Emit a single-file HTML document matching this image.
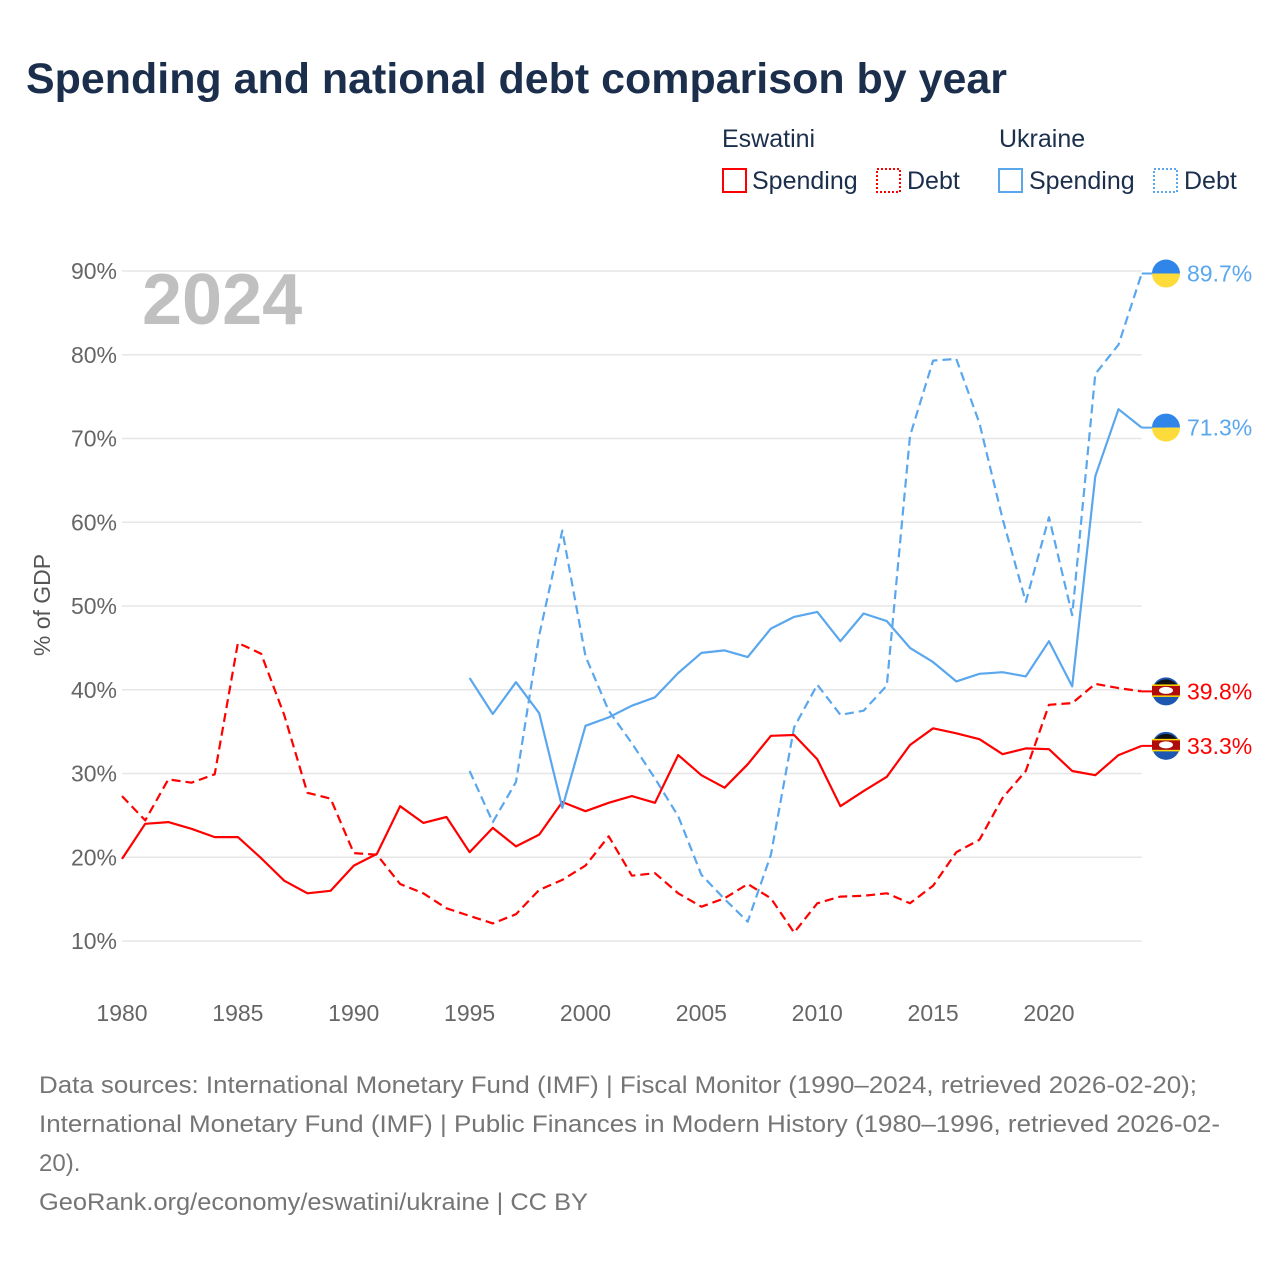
<!DOCTYPE html>
<html><head><meta charset="utf-8"><style>
body{margin:0;background:#fff;font-family:"Liberation Sans",sans-serif}
svg text{font-family:"Liberation Sans",sans-serif}
</style></head><body>
<svg id="chart" width="1280" height="1280" viewBox="0 0 1280 1280">
<text x="26" y="93" font-size="43" font-weight="bold" fill="#1b2f4d" textLength="981" lengthAdjust="spacingAndGlyphs">Spending and national debt comparison by year</text>
<g font-size="25" fill="#1b2f4d">
<text x="722" y="147" fill="#1b2f4d">Eswatini</text>
<text x="999" y="147" fill="#1b2f4d">Ukraine</text>
<g><rect x="723" y="169" width="23" height="23" fill="none" stroke="#f00" stroke-width="2"/><text x="752" y="189">Spending</text></g>
<g><rect x="877" y="169" width="23" height="23" fill="none" stroke="#f00" stroke-width="2" stroke-dasharray="2,2"/><text x="907" y="189">Debt</text></g>
<g><rect x="999" y="169" width="23" height="23" fill="none" stroke="#5aa7ee" stroke-width="2"/><text x="1029" y="189">Spending</text></g>
<g><rect x="1154" y="169" width="23" height="23" fill="none" stroke="#5aa7ee" stroke-width="2" stroke-dasharray="2,2"/><text x="1184" y="189">Debt</text></g>
</g>
<g id="grid"></g>
<g id="yticks"></g>
<g id="xticks"></g>
<text x="0" y="0" transform="translate(50,605) rotate(-90)" text-anchor="middle" font-size="23" fill="#555">% of GDP</text>
<text x="142" y="324" font-size="72" font-weight="bold" fill="#c0c0c0">2024</text>
<g id="series"></g>
<g id="ends"></g>
<g font-size="24" fill="#757575">
<text x="39" y="1093" textLength="1158" lengthAdjust="spacingAndGlyphs">Data sources: International Monetary Fund (IMF) | Fiscal Monitor (1990–2024, retrieved 2026-02-20);</text>
<text x="39" y="1132" textLength="1181" lengthAdjust="spacingAndGlyphs">International Monetary Fund (IMF) | Public Finances in Modern History (1980–1996, retrieved 2026-02-</text>
<text x="39" y="1171">20).</text>
<text x="39" y="1210" textLength="549" lengthAdjust="spacingAndGlyphs">GeoRank.org/economy/eswatini/ukraine | CC BY</text>
</g>
</svg>
<script>
const years=[];for(let y=1980;y<=2024;y++)years.push(y);
const yTicks=[10,20,30,40,50,60,70,80,90];
const xTicks=[1980,1985,1990,1995,2000,2005,2010,2015,2020];
const eswSpending=[19.8,24.0,24.2,23.4,22.4,22.4,19.9,17.2,15.7,16.0,19.0,20.4,26.1,24.1,24.8,20.6,23.5,21.3,22.7,26.6,25.5,26.5,27.3,26.5,32.2,29.8,28.3,31.1,34.5,34.6,31.7,26.1,27.9,29.6,33.4,35.4,34.8,34.1,32.3,33.0,32.9,30.3,29.8,32.2,33.3];
const eswDebt=[27.3,24.4,29.3,28.9,29.9,45.6,44.3,37.0,27.7,27.0,20.5,20.3,16.8,15.7,13.9,13.0,12.1,13.2,16.1,17.3,19.0,22.5,17.8,18.1,15.7,14.1,15.1,16.8,15.1,11.0,14.5,15.3,15.4,15.7,14.5,16.6,20.6,22.1,27.1,30.3,38.2,38.4,40.7,40.2,39.8];
const ukrYears=[];for(let y=1995;y<=2024;y++)ukrYears.push(y);
const ukrSpending=[41.4,37.1,40.9,37.2,25.9,35.7,36.7,38.1,39.1,42.0,44.4,44.7,43.9,47.3,48.7,49.3,45.8,49.1,48.2,45.0,43.3,41.0,41.9,42.1,41.6,45.8,40.4,65.5,73.5,71.3];
const ukrDebt=[30.3,24.2,29.0,46.5,59.0,44.0,37.5,33.6,29.4,24.9,17.9,15.0,12.3,20.3,35.5,40.6,37.0,37.5,40.5,70.3,79.3,79.5,71.8,60.4,50.5,60.6,48.9,77.7,81.2,89.7];

const NS="http://www.w3.org/2000/svg";
const X0=122,X1=1141.7,Y0=941,Y1=271;
const xs=y=>X0+(y-1980)*(X1-X0)/44;
const ys=v=>Y0-(v-10)*(Y0-Y1)/80;
function mk(tag,attrs,parent){const e=document.createElementNS(NS,tag);for(const k in attrs)e.setAttribute(k,attrs[k]);parent.appendChild(e);return e;}
const grid=document.getElementById('grid'),yt=document.getElementById('yticks'),xt=document.getElementById('xticks');
yTicks.forEach(v=>{
 const l=mk('line',{x1:X0,x2:X1,y1:ys(v),y2:ys(v),stroke:'#e6e6e6','stroke-width':1.5},grid);
 
 
 const t=mk('text',{x:117,y:ys(v)+8,'text-anchor':'end','font-size':23,fill:'#666'},yt);t.textContent=v+'%';
 
 
});
xTicks.forEach(v=>{
 const t=mk('text',{x:xs(v),y:1021,'text-anchor':'middle','font-size':23,fill:'#666'},xt);t.textContent=v;
 
 
});
const ser=document.getElementById('series');
function line(xv,yv,color,dash,name){
 const d=yv.map((v,i)=>(i?'L':'M')+xs(xv[i]).toFixed(1)+','+ys(v).toFixed(1)).join('');
 const p=mk('path',{d:d,fill:'none',stroke:color,'stroke-width':2.2,'stroke-linejoin':'round'},ser);
 if(dash)p.setAttribute('stroke-dasharray','9,5');
 
 
}
line(years,eswDebt,'#f00',true,'line-eswatini-debt');
line(ukrYears,ukrDebt,'#5aa7ee',true,'line-ukraine-debt');
line(years,eswSpending,'#f00',false,'line-eswatini-spending');
line(ukrYears,ukrSpending,'#5aa7ee',false,'line-ukraine-spending');
const ends=document.getElementById('ends');
function endLabel(v,color,flag,name){
 const y=ys(v),cx=1166;
 const g=mk('g',{},ends);
 
 
 mk('line',{x1:X1,x2:cx,y1:y,y2:y,stroke:color,'stroke-width':2},g);
 if(flag==='ua'){
  mk('path',{d:`M${cx-14},${y}A14,14 0 0 1 ${cx+14},${y}Z`,fill:'#2f86e8'},g);
  mk('path',{d:`M${cx-14},${y}A14,14 0 0 0 ${cx+14},${y}Z`,fill:'#fddb3a'},g);
 }else{
  mk('circle',{cx:cx,cy:y,r:14,fill:'#1d57b0'},g);
  mk('path',{d:`M${cx-14},${y+2}A14,14 0 0 1 ${cx+14},${y+2}Z`,fill:'#111'},g);
  mk('rect',{x:cx-14,y:y-6,width:28,height:10,fill:'#b10c0c'},g);
  mk('rect',{x:cx-14,y:y-7,width:28,height:1.5,fill:'#ffd900'},g);
  mk('rect',{x:cx-14,y:y+4,width:28,height:1.5,fill:'#ffd900'},g);
  mk('ellipse',{cx:cx,cy:y-1,rx:7,ry:3.5,fill:'#fff'},g);
 }
 const t=mk('text',{x:1187,y:y+8,'font-size':23,fill:color},g);t.textContent=v.toFixed(1)+'%';
}
endLabel(ukrDebt[ukrDebt.length-1],'#5aa7ee','ua','end-label-ukraine-debt');
endLabel(ukrSpending[ukrSpending.length-1],'#5aa7ee','ua','end-label-ukraine-spending');
endLabel(eswDebt[eswDebt.length-1],'#f00','sz','end-label-eswatini-debt');
endLabel(eswSpending[eswSpending.length-1],'#f00','sz','end-label-eswatini-spending');
</script>
</body></html>
